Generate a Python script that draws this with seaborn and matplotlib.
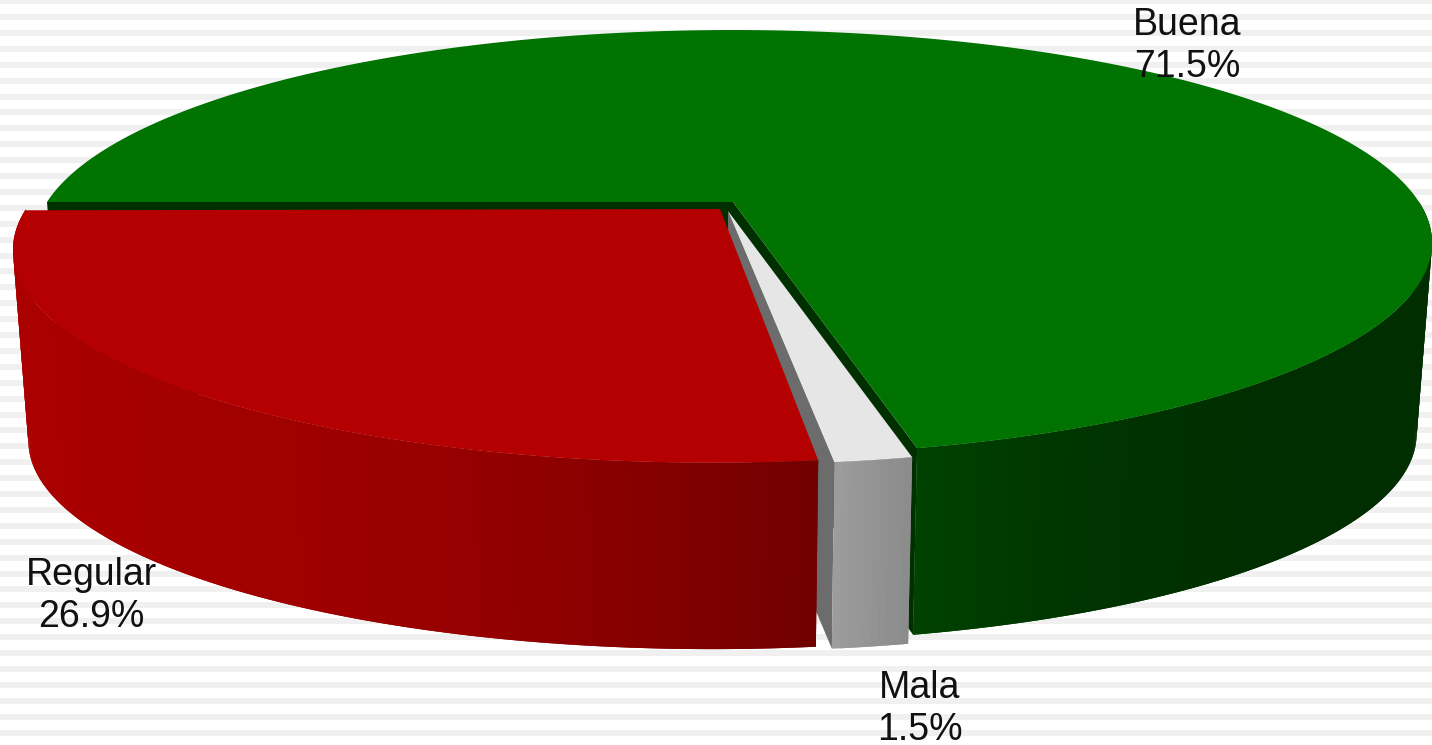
#Fake 3D pie chart, top faces and side walls drawn with fill
import numpy as np
import matplotlib.pyplot as plt
import seaborn as sns

#Data
categories = ["Buena", "Mala", "Regular"]
values = [71.5, 1.5, 26.9]

#Look of each slice
top_colors = ["#007300", "#e6e6e6", "#b40000"]
side_colors = [["#004200", "#003400", "#002e00", "#002e00"],
               ["#9c9c9c", "#8a8a8a"],
               ["#aa0000", "#a20000", "#990000", "#880000", "#700000"]]
wall_colors = ["#003000", "#6c6c6c", None]
apex = [(733, 202), (728, 211), (720, 209)]
rim_x = [733, 728, 712]
label_pos = [(1187, 46), (920, 709), (91, 596)]

sns.set_theme(style="white")
plt.rcParams['font.family'] = ['Liberation Sans', 'DejaVu Sans']

#Perspective of the disc
A, B, K = 686, 205, 0.192
depth, shrink = 192, 0.978


def rim(theta, cx, cy):
    u, v = np.cos(theta), np.sin(theta)
    w = 1 + K * v
    return cx + A * u / w, cy - B * v / w


def lower(x, y, cx, cy):
    return cx + shrink * (x - cx), cy + depth + shrink * (y - cy)


fig, ax = plt.subplots(figsize=(14.32, 7.45), dpi=100)
fig.subplots_adjust(0, 0, 1, 1)
ax.set_xlim(0, 1432)
ax.set_ylim(745, 0)
ax.axis('off')

#Striped background
for y in np.arange(-1.9, 745, 15.9):
    ax.axhspan(y, y + 6, color='#f0f0f0', lw=0, zorder=0)

#Slice angles, clockwise from the left
edges = 180 - 3.6 * np.cumsum([0] + values)

#Drawn back to front: Buena, Mala, Regular
for i in range(len(values)):
    ax_x, ax_y = apex[i]
    cx = rim_x[i]
    a0, a1 = np.radians(edges[i]), np.radians(edges[i + 1])
    z = 2 + i * 3

    #radial walls of the slice
    wall_angles = {0: [a0, a1], 1: [a1], 2: []}[i]
    for wa in wall_angles:
        x, y = rim(wa, cx, ax_y)
        xb, yb = lower(x, y, cx, ax_y)
        ax.fill([ax_x, x, xb, ax_x], [ax_y, y, yb, ax_y + depth], color=wall_colors[i], lw=0, zorder=z)

    #outer wall, cut in thin overlapping strips for the shading
    if i == 2:
        a_s, a_e = np.radians(-180), a0
    else:
        a_s, a_e = a1, min(a0, np.radians(0))
    n = max(int((a_e - a_s) / np.radians(0.5)), 6)
    angles = np.linspace(a_s, a_e, n + 1)
    if i == 0:
        angles = angles[::-1]  #right edge first, so the left part lies on top
    xs_all = rim(angles, cx, ax_y)[0]
    palette = sns.blend_palette(side_colors[i], n_colors=256)
    for j in range(n):
        end = min(j + 2, n)
        x0, y0 = rim(angles[j], cx, ax_y)
        x1, y1 = rim(angles[end], cx, ax_y)
        xb0, yb0 = lower(x0, y0, cx, ax_y)
        xb1, yb1 = lower(x1, y1, cx, ax_y)
        #colour follows the position on screen, from left to right
        pos = (x0 - xs_all.min()) / (xs_all.max() - xs_all.min())
        ax.fill([x0, x1, xb1, xb0], [y0, y1, yb1, yb0], color=palette[int(pos * 255)], lw=0, zorder=z + 1)

    #top face
    t = np.linspace(a0, a1, 400)
    xs, ys = rim(t, cx, ax_y)
    ax.fill(np.r_[ax_x, xs], np.r_[ax_y, ys], color=top_colors[i], lw=0, zorder=z + 2)

#Labels
for name, val, (lx, ly) in zip(categories, values, label_pos):
    ax.text(lx, ly, f"{name}\n{val}%", ha='center', va='center', fontsize=27,
            color='#111111', linespacing=1.2, zorder=20)

plt.savefig("out.png", dpi=100)
